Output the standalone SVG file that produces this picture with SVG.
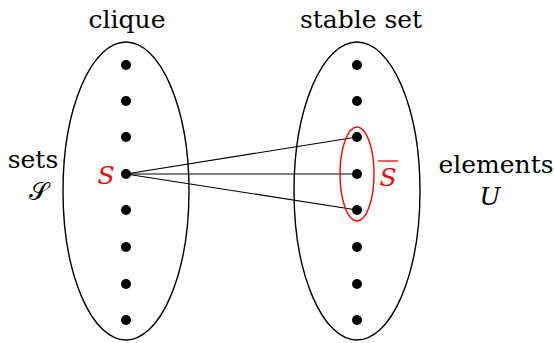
<svg xmlns="http://www.w3.org/2000/svg" width="555" height="343" viewBox="0 0 555 343">
<style>
text{font-family:'DejaVu Serif',serif;font-size:25px;fill:#000}
.red{fill:#ff0000}
.it{font-style:italic}
.ell{fill:none;stroke:#000;stroke-width:1.4}
.dot{fill:#000}
.edge{stroke:#000;stroke-width:1.2;fill:none}
</style>
<rect width="555" height="343" fill="#fff"/>
<g id="clique">
<ellipse class="ell" cx="126" cy="191" rx="63" ry="149"/>
<text x="127" y="28" text-anchor="middle">clique</text>
</g>
<g id="stableset">
<ellipse class="ell" cx="357" cy="191" rx="63" ry="149"/>
<text x="361" y="28" text-anchor="middle">stable set</text>
</g>
<g id="connectors">
<line class="edge" x1="126" y1="174" x2="357" y2="137"/>
<line class="edge" x1="126" y1="174" x2="357" y2="174"/>
<line class="edge" x1="126" y1="174" x2="357" y2="210"/>
</g>
<g id="sbar">
<ellipse cx="357" cy="174" rx="17" ry="47" fill="none" stroke="#ff0000" stroke-width="1.4"/>
<text class="red it" x="388" y="186" text-anchor="middle">S</text>
<line x1="378" y1="161" x2="398" y2="161" stroke="#ff0000" stroke-width="1.3"/>
</g>
<g id="leftdots">
<circle class="dot" cx="126" cy="65" r="5"/>
<circle class="dot" cx="126" cy="101" r="5"/>
<circle class="dot" cx="126" cy="137" r="5"/>
<circle class="dot" cx="126" cy="174" r="5"/>
<circle class="dot" cx="126" cy="210" r="5"/>
<circle class="dot" cx="126" cy="247" r="5"/>
<circle class="dot" cx="126" cy="284" r="5"/>
<circle class="dot" cx="126" cy="320" r="5"/>
</g>
<g id="rightdots">
<circle class="dot" cx="357" cy="65" r="5"/>
<circle class="dot" cx="357" cy="101" r="5"/>
<circle class="dot" cx="357" cy="137" r="5"/>
<circle class="dot" cx="357" cy="174" r="5"/>
<circle class="dot" cx="357" cy="210" r="5"/>
<circle class="dot" cx="357" cy="247" r="5"/>
<circle class="dot" cx="357" cy="284" r="5"/>
<circle class="dot" cx="357" cy="320" r="5"/>
</g>
<g id="S">
<text class="red it" x="106" y="184" text-anchor="middle">S</text>
</g>
<g id="sets">
<text x="33" y="168" text-anchor="middle">sets</text>
<text x="38" y="200" text-anchor="middle" font-size="22">𝒮</text>
</g>
<g id="elements">
<text x="496" y="173" text-anchor="middle">elements</text>
<text class="it" x="490" y="205" text-anchor="middle">U</text>
</g>
</svg>
